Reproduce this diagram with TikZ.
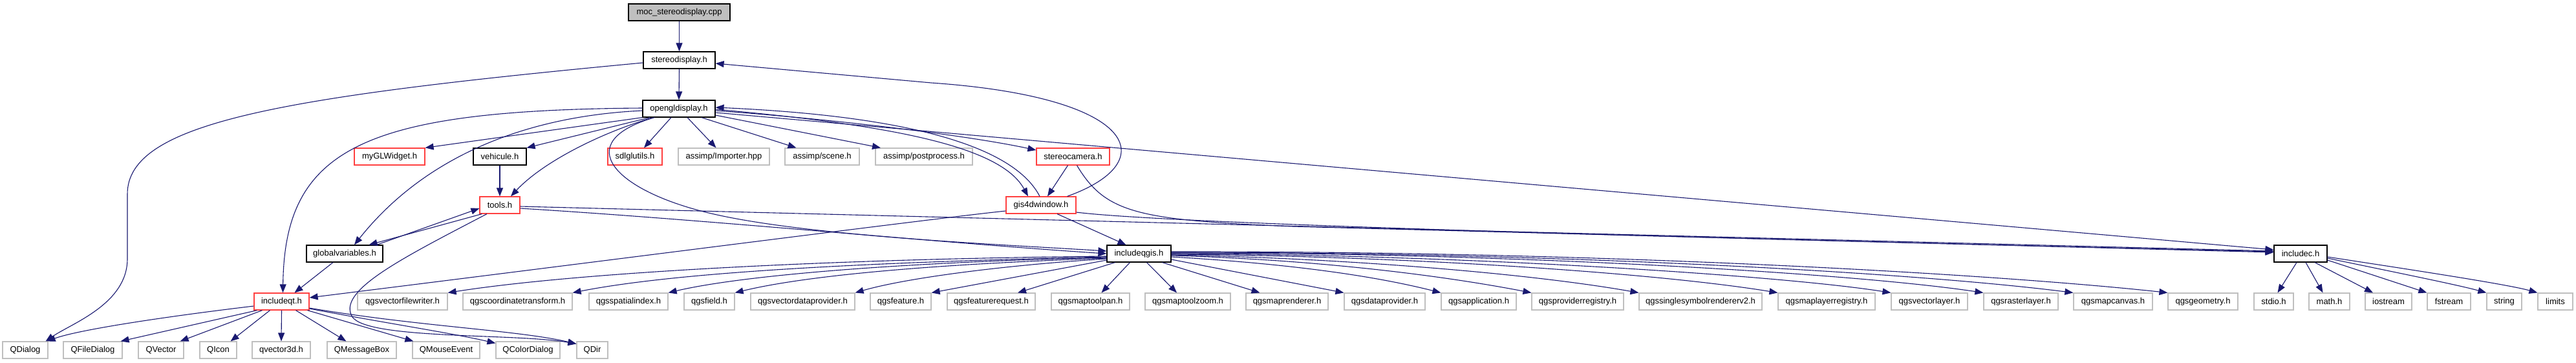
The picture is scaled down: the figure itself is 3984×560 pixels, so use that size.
\documentclass[tikz,border=0pt]{standalone}
\usepackage{fontspec}
\setmainfont{Liberation Sans}
\usetikzlibrary{arrows.meta}
\definecolor{edgeblue}{RGB}{25,25,112}
\definecolor{nodered}{RGB}{255,64,64}
\definecolor{nodegray}{RGB}{191,191,191}
\begin{document}
\begin{tikzpicture}[x=1pt,y=-1pt,
 box/.style={draw,line width=1.2pt,minimum height=26pt,inner sep=0pt,font=\fontsize{13}{15}\selectfont,text=black},
 docnode/.style={box,draw=black},
 trunc/.style={box,draw=nodered},
 ext/.style={box,draw=nodegray},
 root/.style={box,draw=black,fill=nodegray},
 edge/.style={draw=edgeblue,line width=1.1pt,-{Triangle[length=13pt,width=10pt]}}]
\useasboundingbox (0,0) rectangle (3984,560);
% row 0-2
\node[root,minimum width=157pt] (moc) at (1050.5,19) {moc\_stereodisplay.cpp};
\node[docnode,minimum width=111pt] (sd) at (1050.5,93) {stereodisplay.h};
\node[docnode,minimum width=112pt] (ogl) at (1050,168) {opengldisplay.h};
% row 3
\node[trunc,minimum width=109pt] (mygl) at (602.5,242) {myGLWidget.h};
\node[docnode,minimum width=82pt] (veh) at (773,242) {vehicule.h};
\node[trunc,minimum width=84pt] (sdl) at (982,242) {sdlglutils.h};
\node[ext,minimum width=141pt] (imp) at (1119.5,242) {assimp/Importer.hpp};
\node[ext,minimum width=115pt] (scn) at (1271.5,242) {assimp/scene.h};
\node[ext,minimum width=150pt] (pp) at (1429,242) {assimp/postprocess.h};
\node[trunc,minimum width=113pt] (scam) at (1659.5,242) {stereocamera.h};
% row 4
\node[trunc,minimum width=62pt] (tools) at (773,317) {tools.h};
\node[trunc,minimum width=108pt] (gis) at (1610,317) {gis4dwindow.h};
% row 5
\node[docnode,minimum width=118pt] (gv) at (533,392) {globalvariables.h};
\node[docnode,minimum width=99pt] (qgis) at (1761.5,392) {includeqgis.h};
\node[docnode,minimum width=82pt] (inc) at (3558,392) {includec.h};
% row 6
\node[trunc,minimum width=85pt] (iqt) at (435.5,466) {includeqt.h};
\node[ext,minimum width=139pt] (vfw) at (622.5,466) {qgsvectorfilewriter.h};
\node[ext,minimum width=169pt] (ct) at (800.5,466) {qgscoordinatetransform.h};
\node[ext,minimum width=122pt] (si) at (972,466) {qgsspatialindex.h};
\node[ext,minimum width=78pt] (fld) at (1097,466) {qgsfield.h};
\node[ext,minimum width=161pt] (vdp) at (1241.5,466) {qgsvectordataprovider.h};
\node[ext,minimum width=94pt] (feat) at (1393,466) {qgsfeature.h};
\node[ext,minimum width=136pt] (freq) at (1533,466) {qgsfeaturerequest.h};
\node[ext,minimum width=121pt] (mtp) at (1686.5,466) {qgsmaptoolpan.h};
\node[ext,minimum width=132pt] (mtz) at (1837,466) {qgsmaptoolzoom.h};
\node[ext,minimum width=127pt] (mr) at (1990.5,466) {qgsmaprenderer.h};
\node[ext,minimum width=125pt] (dp) at (2141.5,466) {qgsdataprovider.h};
\node[ext,minimum width=116pt] (app) at (2287,466) {qgsapplication.h};
\node[ext,minimum width=142pt] (preg) at (2440,466) {qgsproviderregistry.h};
\node[ext,minimum width=190pt] (ssr) at (2630,466) {qgssinglesymbolrendererv2.h};
\node[ext,minimum width=150pt] (mlr) at (2825,466) {qgsmaplayerregistry.h};
\node[ext,minimum width=118pt] (vl) at (2984,466) {qgsvectorlayer.h};
\node[ext,minimum width=115pt] (rl) at (3125.5,466) {qgsrasterlayer.h};
\node[ext,minimum width=122pt] (mc) at (3268,466) {qgsmapcanvas.h};
\node[ext,minimum width=108pt] (geo) at (3407,466) {qgsgeometry.h};
\node[ext,minimum width=61pt] (stdio) at (3516.5,466) {stdio.h};
\node[ext,minimum width=63pt] (math) at (3602.5,466) {math.h};
\node[ext,minimum width=72pt] (ios) at (3694,466) {iostream};
\node[ext,minimum width=67pt] (fst) at (3787.5,466) {fstream};
\node[ext,minimum width=54pt] (str) at (3873,466) {string};
\node[ext,minimum width=54pt] (lim) at (3952,466) {limits};
% row 7
\node[ext,minimum width=70pt] (qdlg) at (39,541) {QDialog};
\node[ext,minimum width=91pt] (qfd) at (143.5,541) {QFileDialog};
\node[ext,minimum width=70pt] (qvec) at (249,541) {QVector};
\node[ext,minimum width=57pt] (qicon) at (337.5,541) {QIcon};
\node[ext,minimum width=90pt] (qv3) at (435,541) {qvector3d.h};
\node[ext,minimum width=107pt] (qmb) at (559.5,541) {QMessageBox};
\node[ext,minimum width=104pt] (qme) at (690,541) {QMouseEvent};
\node[ext,minimum width=99pt] (qcd) at (816.5,541) {QColorDialog};
\node[ext,minimum width=48pt] (qdir) at (916,541) {QDir};
% edges
\draw[edge] (moc.south) -- (sd.north);
\draw[edge] (sd.south) -- (ogl.north);
\draw[edge] ([yshift=-4pt]sd.west) .. controls (430,150) and (197,190) .. (197,300) -- (197,400) .. controls (197,470) and (110,500) .. ([xshift=-4pt]qdlg.north east);
\draw[edge] ([xshift=-14pt]gis.north east) .. controls (1800,250) and (1760,150) .. (1440,128) -- ([yshift=-5pt]sd.east);
\draw[edge] (ogl.south west) -- (mygl.north east);
\draw[edge] ([xshift=-45pt]ogl.south) -- (veh.north east);
\draw[edge] ([xshift=-40pt]ogl.south) .. controls (930,205) and (840,250) .. ([xshift=17pt]tools.north);
\draw[edge] ([xshift=-12pt]ogl.south) -- ([xshift=14pt]sdl.north);
\draw[edge] ([xshift=13pt]ogl.south) -- ([xshift=-12pt]imp.north);
\draw[edge] ([xshift=35pt]ogl.south) -- ([xshift=-40pt]scn.north);
\draw[edge] ([yshift=-10pt]ogl.east) -- ([xshift=-67pt]pp.north);
\draw[edge] ([yshift=-3pt]ogl.east) .. controls (1300,185) and (1500,210) .. ([yshift=10pt]scam.west);
\draw[edge] ([yshift=-1pt]ogl.east) .. controls (1400,195) and (1550,230) .. ([xshift=-20pt]gis.north);
\draw[edge] ([xshift=-2pt]gis.north) .. controls (1570,230) and (1420,180) .. ([yshift=2pt]ogl.east);
\draw[edge] ([yshift=-6pt]ogl.east) -- ([yshift=6pt]inc.west);
\draw[edge] ([yshift=-3pt]ogl.west) .. controls (800,180) and (650,250) .. ([xshift=15pt]gv.north);
\draw[edge] ([yshift=1pt]ogl.west) .. controls (560,170) and (440,230) .. ([xshift=2pt]iqt.north);
\draw[edge] ([xshift=-38pt]ogl.south) .. controls (880,220) and (950,295) .. (1100,330) .. controls (1250,365) and (1550,378) .. ([yshift=4pt]qgis.west);
\draw[edge] (veh.south) -- (tools.north);
\draw[edge] ([xshift=4pt]tools.south west) -- ([xshift=-22pt]gv.north east);
\draw[edge] ([xshift=-10pt]gv.north east) -- ([yshift=-5pt]tools.west);
\draw[edge] ([xshift=-20pt]tools.south) .. controls (620,400) and (520,450) .. (545,490) .. controls (570,525) and (800,515) .. ([yshift=-4pt]qdir.north west);
\draw[edge] ([yshift=-5pt]tools.east) .. controls (1100,340) and (1450,375) .. (qgis.west);
\draw[edge] ([yshift=-2pt]tools.east) -- ([yshift=4pt]inc.west);
\draw[edge] ([xshift=-18pt]gv.south) -- ([xshift=20pt]iqt.north);
\draw[edge] ([yshift=-9pt]gis.west) .. controls (1450,337) and (1000,395) .. ([yshift=6pt]iqt.east);
\draw[edge] ([xshift=25pt]gis.south) -- ([xshift=-20pt]qgis.north);
\draw[edge] ([yshift=-11pt]gis.east) .. controls (1800,345) and (2500,365) .. ([yshift=3pt]inc.west);
\draw[edge] ([xshift=-8pt]scam.south) -- ([xshift=10pt]gis.north);
\draw[edge] ([xshift=6pt]scam.south) .. controls (1710,330) and (1760,340) .. (2000,350) -- ([yshift=2pt]inc.west);
% includeqgis children
\draw[edge] ([yshift=-4pt]qgis.west) .. controls (1300,400) and (900,420) .. (vfw.north east);
\draw[edge] ([yshift=-5pt]qgis.west) .. controls (1350,405) and (1050,420) .. (ct.north east);
\draw[edge] ([yshift=-6pt]qgis.west) .. controls (1400,405) and (1150,425) .. (si.north east);
\draw[edge] ([yshift=-7pt]qgis.west) .. controls (1450,408) and (1250,425) .. (fld.north east);
\draw[edge] ([yshift=-8pt]qgis.west) .. controls (1550,410) and (1400,430) .. (vdp.north east);
\draw[edge] ([yshift=-10pt]qgis.west) -- (feat.north east);
\draw[edge] ([xshift=-37pt]qgis.south) -- ([xshift=41pt]freq.north);
\draw[edge] ([xshift=-14pt]qgis.south) -- ([xshift=17pt]mtp.north);
\draw[edge] ([xshift=12pt]qgis.south) -- ([xshift=-17pt]mtz.north);
\draw[edge] ([xshift=36pt]qgis.south) -- ([xshift=-42pt]mr.north);
\draw[edge] ([yshift=-9pt]qgis.east) -- (dp.north west);
\draw[edge] ([yshift=-5pt]qgis.east) .. controls (1950,405) and (2100,420) .. (app.north west);
\draw[edge] ([yshift=-3pt]qgis.east) .. controls (2000,400) and (2200,420) .. (preg.north west);
\draw[edge] ([yshift=-2pt]qgis.east) .. controls (2050,398) and (2350,420) .. (ssr.north west);
\draw[edge] ([yshift=-1pt]qgis.east) .. controls (2150,395) and (2550,420) .. (mlr.north west);
\draw[edge] (qgis.east) .. controls (2250,393) and (2750,425) .. (vl.north west);
\draw[edge] ([yshift=1pt]qgis.east) .. controls (2300,390) and (2850,420) .. (rl.north west);
\draw[edge] ([yshift=2pt]qgis.east) .. controls (2400,390) and (2950,420) .. (mc.north west);
\draw[edge] ([yshift=3pt]qgis.east) .. controls (2500,388) and (3100,425) .. (geo.north west);
% includec children
\draw[edge] ([xshift=-6pt]inc.south) -- ([xshift=6pt]stdio.north);
\draw[edge] ([xshift=8pt]inc.south) -- ([xshift=-10pt]math.north);
\draw[edge] ([xshift=22pt]inc.south) -- ([xshift=-24pt]ios.north);
\draw[edge] ([yshift=-10pt]inc.east) -- (fst.north west);
\draw[edge] ([yshift=-7pt]inc.east) .. controls (3700,420) and (3800,440) .. (str.north west);
\draw[edge] ([yshift=-5pt]inc.east) .. controls (3750,420) and (3880,440) .. (lim.north west);
% includeqt children
\draw[edge] ([yshift=-7pt]iqt.west) .. controls (250,490) and (120,510) .. ([xshift=-2pt]qdlg.north east);
\draw[edge] ([xshift=-38pt]iqt.south) -- ([xshift=-3pt]qfd.north east);
\draw[edge] ([xshift=-30pt]iqt.south) -- ([xshift=-6pt]qvec.north east);
\draw[edge] ([xshift=-18pt]iqt.south) -- ([xshift=-10pt]qicon.north east);
\draw[edge] (iqt.south) -- (qv3.north);
\draw[edge] ([xshift=22pt]iqt.south) -- ([xshift=-24pt]qmb.north);
\draw[edge] ([xshift=40pt]iqt.south) -- ([xshift=2pt]qme.north west);
\draw[edge] ([yshift=-11pt]iqt.east) .. controls (600,500) and (700,515) .. ([yshift=-3pt]qcd.north west);
\draw[edge] ([yshift=-10pt]iqt.east) .. controls (650,505) and (800,510) .. ([yshift=-4pt]qdir.north west);
\end{tikzpicture}
\end{document}
